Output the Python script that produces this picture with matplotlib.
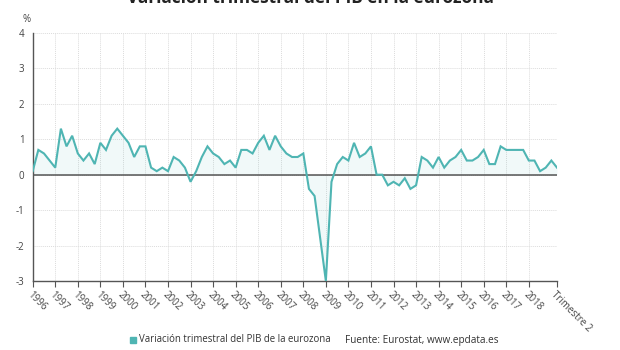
import matplotlib
matplotlib.use("Agg")
import matplotlib.pyplot as plt
import numpy as np

plt.rcParams['font.family'] = ['Open Sans', 'DejaVu Sans']

title = "Variación trimestral del PIB en la eurozona"
series_name = "Variación trimestral del PIB de la eurozona"
source = "Fuente: Eurostat, www.epdata.es"

# Quarterly values, 1996 Q1 .. 2019 Q2
values = [
    0.1, 0.7, 0.6, 0.4, 0.2, 1.3, 0.8, 1.1, 0.6, 0.4, 0.6, 0.3,
    0.9, 0.7, 1.1, 1.3, 1.1, 0.9, 0.5, 0.8, 0.8, 0.2, 0.1, 0.2,
    0.1, 0.5, 0.4, 0.2, -0.2, 0.1, 0.5, 0.8, 0.6, 0.5, 0.3, 0.4,
    0.2, 0.7, 0.7, 0.6, 0.9, 1.1, 0.7, 1.1, 0.8, 0.6, 0.5, 0.5,
    0.6, -0.4, -0.6, -1.8, -3.0, -0.2, 0.3, 0.5, 0.4, 0.9, 0.5, 0.6,
    0.8, 0.0, 0.0, -0.3, -0.2, -0.3, -0.1, -0.4, -0.3, 0.5, 0.4, 0.2,
    0.5, 0.2, 0.4, 0.5, 0.7, 0.4, 0.4, 0.5, 0.7, 0.3, 0.3, 0.8,
    0.7, 0.7, 0.7, 0.7, 0.4, 0.4, 0.1, 0.2, 0.4, 0.2,
]
tick_labels = [str(y) for y in range(1996, 2019)] + ["Trimestre 2"]
yticks = [-3, -2, -1, 0, 1, 2, 3, 4]

color = "#4fb5b3"

fig = plt.figure(figsize=(6.2, 3.5), dpi=100)
ax = fig.add_axes([32.7 / 620, 1 - 281 / 350, (557 - 32.7) / 620, (281 - 33) / 350])

x = np.arange(len(values))
ax.fill_between(x, values, 0, color=color, alpha=0.08, lw=0)
ax.plot(x, values, color=color, lw=1.5, zorder=3, solid_joinstyle='miter')
ax.axhline(0, color="#555555", lw=1.1, zorder=2)

ax.set_xlim(0, len(values) - 1)
ax.set_ylim(-3, 4)

tick_pos = list(range(0, 89, 4)) + [len(values) - 1]
ax.set_xticks(tick_pos)
ax.set_xticklabels(tick_labels, rotation=-45, ha='left', va='top',
                   rotation_mode='anchor', fontsize=7, color="#444444")
ax.set_yticks(yticks)
ax.set_yticklabels([str(v) for v in yticks], fontsize=7, color="#444444")

ax.grid(True, color="#dcdcdc", lw=0.7, ls=(0, (1, 1)))
ax.set_axisbelow(True)

for s in ['top', 'right']:
    ax.spines[s].set_visible(False)
ax.spines['left'].set_color("#555555")
ax.spines['bottom'].set_color("#555555")
ax.spines['left'].set_linewidth(1.0)
ax.spines['bottom'].set_linewidth(1.0)
ax.tick_params(axis='x', length=4, width=0.8, color="#555555", pad=2)
ax.tick_params(axis='y', length=0, pad=6)

fig.text(27 / 620, 1 - 20 / 350, "%", fontsize=7, color="#444444", ha='center', va='center')
fig.text(0.5, 1.0 + 2 / 350, title, fontsize=12.4, fontweight='bold', ha='center', va='center', color="#222222")

# legend
fig.patches.append(matplotlib.patches.Rectangle((130 / 620, 1 - 343 / 350), 6 / 620, 6 / 350,
                                                transform=fig.transFigure, color=color, figure=fig))
fig.text(139 / 620, 1 - 340 / 350, series_name, fontsize=6.9, color="#333333", ha='left', va='center')
fig.text(345 / 620, 1 - 340 / 350, source, fontsize=7.2, color="#333333", ha='left', va='center')

fig.savefig("out.png", dpi=100)
